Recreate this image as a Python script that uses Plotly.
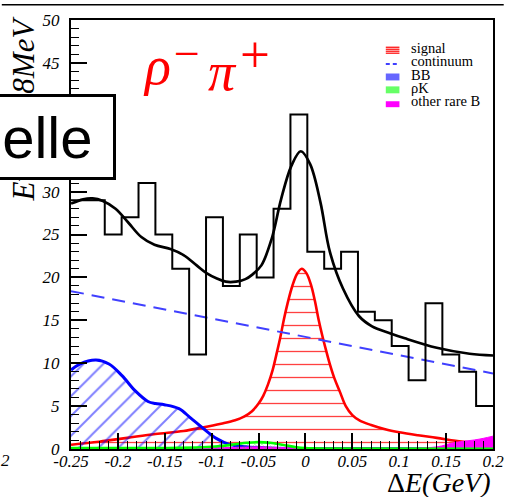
import numpy as np
import plotly.graph_objects as go

# ---------------- data ----------------
# Delta E distribution, 18 MeV bins from -0.25 to 0.20 GeV
de_min = -0.25
bin_width = 0.018
events = [29, 29, 25, 27, 31, 25, 21, 11, 27, 19, 25, 20, 28, 39,
          23, 21, 23, 16, 15, 12, 8, 17, 11, 9, 5]

# total fit
total_x = [-0.25, -0.237, -0.227, -0.216, -0.2025, -0.189, -0.175, -0.161,
           -0.144, -0.130, -0.116, -0.1055, -0.095, -0.085, -0.074, -0.064,
           -0.057, -0.047, -0.036, -0.026, -0.015, -0.005, 0.005, 0.016,
           0.026, 0.040, 0.057, 0.071, 0.090, 0.106, 0.140, 0.175, 0.200]
total_y = [28.6, 29.1, 29.2, 28.9, 28.0, 26.4, 24.7, 23.8,
           23.3, 22.6, 21.4, 20.5, 19.9, 19.5, 19.5, 19.8,
           20.3, 21.4, 24.5, 29.1, 33.0, 34.7, 33.2, 28.75,
           23.0, 18.7, 15.5, 14.3, 13.5, 12.9, 11.8, 11.1, 10.9]

# signal component
signal_x = [-0.25, -0.22, -0.19, -0.16, -0.13, -0.11, -0.09, -0.075, -0.065,
            -0.057, -0.050, -0.045, -0.040, -0.035, -0.031, -0.027, -0.023,
            -0.019, -0.014, -0.009, -0.004, 0.001, 0.006, 0.010, 0.014,
            0.018, 0.022, 0.026, 0.031, 0.037, 0.043, 0.050, 0.058, 0.070,
            0.085, 0.100, 0.120, 0.140, 0.160, 0.180, 0.200]
signal_y = [0.5, 0.85, 1.3, 1.75, 2.1, 2.5, 2.95, 3.35, 3.8,
            4.4, 5.3, 6.2, 7.5, 9.2, 11.0, 12.9, 15.1,
            17.0, 19.0, 20.4, 21.0, 20.5, 19.1, 17.3, 15.1,
            13.2, 11.5, 9.9, 8.2, 6.6, 5.0, 3.95, 3.3, 2.8,
            2.3, 1.95, 1.6, 1.3, 0.95, 0.7, 0.5]

# continuum (linear)
continuum_x = [-0.25, 0.20]
continuum_y = [18.4, 8.8]

# generic B-Bbar background
bb_x = [-0.25, -0.2406, -0.2233, -0.2095, -0.1956, -0.1817, -0.1679, -0.16,
        -0.1505, -0.1349, -0.1229, -0.1089, -0.0951, -0.0813, -0.0639,
        -0.04, 0.0, 0.2]
bb_y = [9.2, 9.9, 10.36, 9.9, 8.55, 6.8, 5.54, 5.3,
        5.16, 4.7, 3.66, 2.39, 1.24, 0.54, 0.27,
        0.12, 0.05, 0.0]

# rho K feed-across
rhok_x = [-0.25, -0.15, -0.11, -0.09, -0.075, -0.062, -0.05, -0.038,
          -0.025, -0.012, 0.0, 0.03, 0.2]
rhok_y = [0.1, 0.12, 0.2, 0.35, 0.55, 0.72, 0.8, 0.72,
          0.5, 0.25, 0.1, 0.05, 0.03]

# other rare B decays
rare_x = [-0.25, -0.12, -0.07, -0.05, -0.02, 0.05, 0.13, 0.145, 0.155,
          0.165, 0.18, 0.19, 0.2]
rare_y = [0.05, 0.1, 0.2, 0.25, 0.15, 0.1, 0.15, 0.35, 0.65,
          0.85, 1.05, 1.25, 1.5]

x_ticks = [-0.25, -0.2, -0.15, -0.1, -0.05, 0, 0.05, 0.1, 0.15, 0.2]
x_tick_text = ["-0.25", "-0.2", "-0.15", "-0.1", "-0.05", "0", "0.05",
               "0.1", "0.15", "0.2"]
y_ticks = [0, 5, 10, 15, 20, 25, 30, 35, 40, 45, 50]

legend_labels = ["signal", "continuum", "BB", "ρK", "other rare B"]

# ---------------- geometry helpers ----------------
W_PX, H_PX = 515, 497
L, R, T, B = 71, 11, 16, 48
PW = W_PX - L - R
PH = H_PX - T - B


def fx(px):
    return (px - L) / PW


def fy(py):
    return (H_PX - B - py) / PH


SERIF = "Liberation Serif"
SANS = "Liberation Sans"
CLEAR = "rgba(0,0,0,0)"

fig = go.Figure()

# signal: red curve with horizontal hatching
fig.add_trace(go.Scatter(
    x=signal_x, y=signal_y, mode="lines", fill="tozeroy", fillcolor=CLEAR,
    line=dict(color="red", width=2.6, shape="spline"),
    fillpattern=dict(shape="-", fgcolor="red", bgcolor=CLEAR, size=13,
                     solidity=0.1, fgopacity=0.75),
))

# B-Bbar: blue curve with diagonal hatching
fig.add_trace(go.Scatter(
    x=bb_x, y=bb_y, mode="lines", fill="tozeroy", fillcolor=CLEAR,
    line=dict(color="blue", width=3, shape="spline"),
    fillpattern=dict(shape="/", fgcolor="blue", bgcolor=CLEAR, size=14,
                     solidity=0.14),
))

# other rare B: solid magenta
fig.add_trace(go.Scatter(
    x=rare_x, y=rare_y, mode="lines", fill="tozeroy",
    line=dict(color="magenta", width=1, shape="spline"),
    fillcolor="magenta",
))

# rho K: green
fig.add_trace(go.Scatter(
    x=rhok_x, y=rhok_y, mode="lines", fill="tozeroy", fillcolor=CLEAR,
    line=dict(color="#00ff00", width=2.6, shape="spline"),
    fillpattern=dict(shape="x", fgcolor="#00ff00", bgcolor=CLEAR, size=5,
                     solidity=0.2),
))

# continuum: dashed blue line
fig.add_trace(go.Scatter(
    x=continuum_x, y=continuum_y, mode="lines",
    line=dict(color="#4040ff", width=2, dash="13px,8px"),
))

# data histogram as a step outline
edges = de_min + bin_width * np.arange(len(events) + 1)
fig.add_trace(go.Scatter(
    x=edges, y=events + [events[-1]], mode="lines",
    line=dict(color="black", width=2, shape="hv"),
))

# total fit
fig.add_trace(go.Scatter(
    x=total_x, y=total_y, mode="lines",
    line=dict(color="black", width=2.7, shape="spline"),
))

tickfont = dict(family=SERIF, size=17, style="italic", color="black")

fig.update_layout(
    width=W_PX, height=H_PX,
    margin=dict(l=L, r=R, t=T, b=B),
    paper_bgcolor="white", plot_bgcolor="white",
    showlegend=False,
    xaxis=dict(
        range=[-0.25, 0.2], tickmode="array", tickvals=x_ticks,
        ticktext=x_tick_text, ticks="inside", ticklen=16, tickwidth=1.6,
        tickcolor="black",
        minor=dict(ticks="inside", ticklen=8, tickwidth=1.2, tickcolor="black",
                   tickmode="linear", tick0=-0.25, dtick=0.01),
        showline=True, linecolor="black", linewidth=2, mirror=True,
        showgrid=False, zeroline=False, tickfont=tickfont,
        ticklabelstandoff=-4,
    ),
    yaxis=dict(
        range=[0, 50], tickmode="array", tickvals=y_ticks,
        ticks="inside", ticklen=16, tickwidth=1.6, tickcolor="black",
        minor=dict(ticks="inside", ticklen=8, tickwidth=1.2, tickcolor="black",
                   tickmode="linear", tick0=0, dtick=1),
        showline=True, linecolor="black", linewidth=2, mirror=True,
        showgrid=False, zeroline=False, tickfont=tickfont,
        ticklabelstandoff=6,
    ),
)

shapes = []
annotations = []

# outer border line along the top of the canvas
shapes.append(dict(type="line", xref="paper", yref="paper",
                   x0=fx(0), x1=fx(W_PX), y0=fy(0.5), y1=fy(0.5),
                   line=dict(color="black", width=1.5), layer="above"))

# axis titles
annotations.append(dict(
    text="Events/18MeV", xref="paper", yref="paper", x=fx(22.5), y=fy(105.5),
    xanchor="center", yanchor="middle", textangle=-90, showarrow=False,
    font=dict(family=SERIF, size=31, style="italic", color="black"),
))
annotations.append(dict(
    text="Δ<i>E(GeV)</i>", xref="paper", yref="paper", x=fx(504), y=fy(483),
    xanchor="right", yanchor="middle", showarrow=False,
    font=dict(family=SERIF, size=28, color="black"),
))
annotations.append(dict(
    text="2", xref="paper", yref="paper", x=fx(4), y=fy(461),
    xanchor="center", yanchor="middle", showarrow=False,
    font=dict(family=SERIF, size=17, style="italic", color="black"),
))

# decay mode label
for txt, cx, cy, size, italic in [("ρ", 159, 62.8, 54, True),
                                   ("−", 190, 50, 46, False),
                                   ("π", 226, 68.8, 54, True),
                                   ("+", 260, 50.7, 53, False)]:
    annotations.append(dict(
        text=txt, xref="paper", yref="paper", x=fx(cx), y=fy(cy),
        xanchor="center", yanchor="middle", showarrow=False,
        font=dict(family=SERIF, size=size, color="red",
                  style="italic" if italic else "normal"),
    ))

# experiment label in a framed box, drawn over the axis title
annotations.append(dict(
    text="Belle", xref="paper", yref="paper", x=fx(27), y=fy(134.5),
    xanchor="center", yanchor="middle", showarrow=False,
    width=170, height=80, borderpad=0, borderwidth=3,
    bordercolor="black", bgcolor="white", align="center", valign="middle",
    font=dict(family=SANS, size=58, color="black"),
))

# legend
sw_x0, sw_x1 = 394, 408
text_x = 418
baselines = [49, 62.5, 76, 89.5, 103]
for lab, base in zip(legend_labels, baselines):
    annotations.append(dict(
        text=lab, xref="paper", yref="paper", x=fx(text_x), y=fy(base - 4.9),
        xanchor="left", yanchor="middle", showarrow=False,
        font=dict(family=SERIF, size=14.5, color="black"),
    ))

# signal swatch: stacked red lines
for yy in [43.5, 45.5, 47.5, 49.5]:
    shapes.append(dict(type="line", xref="paper", yref="paper",
                       x0=fx(sw_x0), x1=fx(sw_x1), y0=fy(yy), y1=fy(yy),
                       line=dict(color="red", width=1.2), layer="above"))
# continuum swatch
shapes.append(dict(type="line", xref="paper", yref="paper",
                   x0=fx(sw_x0), x1=fx(sw_x1), y0=fy(60.5), y1=fy(60.5),
                   line=dict(color="blue", width=1.5, dash="4px,3px"),
                   layer="above"))
# hatched swatches
for (ytop, ybot), col in [((70, 77), "rgba(0,0,255,0.6)"),
                          ((83, 90), "rgba(0,255,0,0.6)"),
                          ((98, 104), "magenta")]:
    shapes.append(dict(type="rect", xref="paper", yref="paper",
                       x0=fx(sw_x0), x1=fx(sw_x1), y0=fy(ybot), y1=fy(ytop),
                       fillcolor=col, line=dict(width=0), layer="above"))

fig.update_layout(shapes=shapes, annotations=annotations)

fig.write_html("out.html")
